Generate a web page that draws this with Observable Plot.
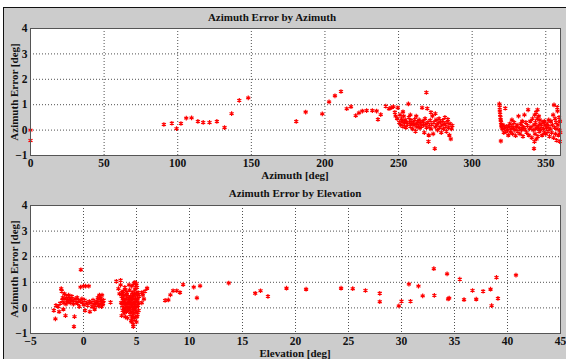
<!DOCTYPE html>
<html><head><meta charset="utf-8">
<script src="https://cdn.jsdelivr.net/npm/d3@7"></script>
<script src="https://cdn.jsdelivr.net/npm/@observablehq/plot@0.6"></script>
<style>
body{margin:0;background:#fff;}
#fig{position:relative;width:566px;height:359px;overflow:hidden;background:#fff;}
#bg{position:absolute;left:3px;top:7px;right:0;bottom:0;background:#cccccc;border-left:1.5px solid #111;border-top:1.5px solid #111;}
.t{position:absolute;font-family:"Liberation Serif",serif;font-weight:bold;font-size:11px;color:#111;white-space:nowrap;}
.p{position:absolute;left:0;}
.p svg text{font-family:"Liberation Serif",serif;font-weight:bold;}
</style></head>
<body><div id="fig"><div id="bg"></div>
<div class="t" style="left:272px;top:11px;transform:translateX(-50%)">Azimuth Error by Azimuth</div>
<div class="t" style="left:295px;top:169px;transform:translateX(-50%)">Azimuth [deg]</div>
<div class="t" style="left:14px;top:92px;transform:translate(-50%,-50%) rotate(-90deg)">Azimuth Error [deg]</div>
<div class="t" style="left:295px;top:187px;transform:translateX(-50%)">Azimuth Error by Elevation</div>
<div class="t" style="left:295px;top:347px;transform:translateX(-50%)">Elevation [deg]</div>
<div class="t" style="left:14px;top:269px;transform:translate(-50%,-50%) rotate(-90deg)">Azimuth Error [deg]</div>
<div id="p1" class="p" style="top:0px"></div>
<div id="p2" class="p" style="top:180px"></div>
</div>
<script>
const azimuthTicks = [0,50,100,150,200,250,300,350];
const elevationTicks = [-5,0,5,10,15,20,25,30,35,40,45];
const errorTicks = [-1,0,1,2,3,4];

// Azimuth error vs azimuth: [azimuth, error]
const azSparse = [[0,0],[0,-0.41],[90.6,0.22],[96,0.27],[99.2,0.06],[102.2,0.26],[105.8,0.47],[109.4,0.48],[113.7,0.34],[117.3,0.3],[121.6,0.3],[126.6,0.34],[131.8,0.1],[136.6,0.65],[141.8,1.17],[147.9,1.27],[180.5,0.34],[186.9,0.71],[198.2,0.64],[202.8,1.11],[206.8,1.35],[210.9,1.52],[214.8,0.84],[217.7,0.92],[220.9,0.57],[223.1,0.68],[225.4,0.75],[228.3,0.77],[232.2,0.77],[235.1,0.75],[236,0.42],[237.9,0.61]];
const azClusterA = [[241.3,0.94],[243.5,0.84],[245,0.88],[246.5,0.92],[247.5,0.7],[248,0.55],[249,0.45],[249.5,0.88],[250.5,0.3],[251,0.6],[251.5,0.2],[252,0.45],[252.5,0.35],[253,0.15],[253.5,0.55],[254,0.28],[254.5,0.4],[255,0.1],[255.5,0.32],[256,0.22],[256.7,1.03],[257,0.5],[257.5,0.3],[258,0.15],[258.5,0.38],[259,0.25],[259.5,0.05],[260,0.3],[260.5,0.2],[261,0.42],[261.5,-0.05],[262,0.25],[262.5,0.12],[263,0.33],[263.5,0.18],[264,0.4],[264.5,0.08],[265,0.28],[265.5,0.15],[266,0.88],[266.5,0.35],[267,0.2],[267.5,-0.1],[268,0.45],[268.5,0.25],[268.9,1.48],[269,0.1],[269.5,0.85],[270,0.3],[270.3,-0.45],[270.5,-0.2],[271,0.15],[271.5,0.38],[272,0.05],[272.5,0.22],[273,0.55],[273.5,-0.15],[274,0.3],[274.6,-0.73],[275,0.12],[275.5,0.4],[276,0.2],[276.5,0],[277,0.28],[277.5,0.45],[278,0.1],[278.5,0.32],[279,-0.1],[279.5,0.2],[280,0.38],[280.5,0.05],[281,0.25],[281.5,0.5],[282,0.15],[282.5,-0.05],[283,0.3],[283.5,0.42],[284,0.1],[284.5,-0.2],[285,0.25],[285.5,-0.35],[286,0.05],[286.5,0.18],[258,0.6],[262,0.55],[272,0.7],[275,0.65],[253,0.72]];
const azClusterB = [[318.5,1.03],[318.7,0.9],[318.8,0.75],[319,0.62],[319.2,0.5],[319.4,0.4],[319.6,0.3],[319.8,0.2],[320,0.12],[319.5,-0.43],[320.5,0.05],[321,0.2],[321.5,-0.1],[322,0.1],[322.5,0.86],[323,-0.05],[323.5,0.15],[324,0],[324.5,-0.2],[325,0.12],[325.5,0.25],[326,-0.08],[326.5,0.05],[327,0.18],[327.5,-0.15],[328,0.1],[328.5,0.3],[329,0],[329.5,-0.22],[330,0.12],[330.5,0.2],[331,-0.05],[331.5,0.55],[332,0.08],[332.5,-0.15],[333,0.25],[333.5,0],[334,0.15],[334.5,-0.25],[335,0.1],[335.5,0.6],[336,0.02],[336.5,0.3],[337,-0.1],[337.5,0.18],[338,0.8],[338.5,-0.2],[339,0.05],[339.5,0.35],[340,0.12],[340.5,-0.3],[341,0.45],[341.5,0],[342,-0.73],[342,0.2],[342.3,-0.45],[342.5,0.6],[342.7,-0.15],[343,0.3],[343.2,0.05],[343.5,0.7],[343.7,-0.35],[344,0.15],[344.2,0.45],[344.4,0.8],[344.6,-0.25],[345,0.1],[345.3,0.55],[345.5,-0.05],[346,0.25],[346.5,0],[347,0.15],[347.5,-0.2],[348,0.3],[348.5,0.05],[349,-0.1],[349.5,0.2],[350,-0.15],[350.5,0.1],[351,0.25],[351.5,-0.05],[352,0.15],[352.5,-0.25],[353,0.05],[353.5,0.35],[354,-0.1],[354.5,0.2],[355,0.6],[355.3,-0.3],[355.6,0.99],[356,0.1],[356.3,0.45],[356.6,-0.15],[357,0.3],[357.3,-0.4],[357.6,0.05],[358,0.75],[358.3,0.2],[358.6,-0.2],[359,0.5],[359.3,0],[359.6,0.35],[359.8,-0.1],[357.8,0.9],[359.5,-0.45],[334,0.35],[327,0.4],[346,0.4],[349,0.35],[352,0.4]];

// Azimuth error vs elevation: [elevation, error]
const elClusterC = [[-2.8,-0.1],[-2.65,-0.43],[-2.6,0.1],[-2.4,0.05],[-2.3,-0.15],[-2.2,0.18],[-2.1,0.75],[-2.05,0.65],[-2,0.3],[-1.95,0.4],[-1.9,-0.05],[-1.85,0.2],[-1.8,0.55],[-1.75,0.35],[-1.7,-0.3],[-1.65,0.15],[-1.6,0.45],[-1.5,0.3],[-1.45,0.25],[-1.4,0.5],[-1.3,0.38],[-1.25,0.2],[-1.2,0.32],[-1.1,0.45],[-1,0.28],[-0.95,0.15],[-0.9,-0.73],[-0.85,-0.34],[-0.8,0.35],[-0.7,0.22],[-0.6,0.4],[-0.55,0.18],[-0.5,0.3],[-0.4,0.05],[-0.3,0.25],[-0.25,1.49],[-0.28,0.81],[-0.15,0.35],[-0.1,0.2],[0,0.85],[0.05,0.12],[0.1,0.3],[0.15,-0.1],[0.2,0.85],[0.3,0.2],[0.4,0.1],[0.5,0.85],[0.55,0.25],[0.6,-0.15],[0.7,0.2],[0.8,0.05],[0.9,0.3],[1,0.15],[1.05,-0.05],[1.1,0.1],[1.2,0.25],[1.3,0.2],[1.35,0.4],[1.4,0.08],[1.45,0.3],[1.5,0.5],[1.55,0.15],[1.6,0.35],[1.65,0.22],[1.7,0.05],[1.75,0.28],[1.8,0.12],[1.85,0.18],[1.9,0.3],[1.6,0.45],[1.75,0.5],[2.55,0.22]];
const elClusterD = [[3.1,1.04],[3.3,0.75],[3.4,0.55],[3.5,1.08],[3.5,0.9],[3.55,0.2],[3.6,-0.3],[3.6,0.45],[3.65,0.1],[3.7,0.3],[3.7,-0.1],[3.75,0.65],[3.8,0],[3.8,0.5],[3.85,-0.2],[3.85,0.25],[3.9,0.15],[3.9,0.8],[3.95,-0.35],[4,0.35],[4,0.05],[4.05,-0.15],[4.1,0.6],[4.1,0.2],[4.15,-0.4],[4.2,0.1],[4.2,0.45],[4.25,-0.05],[4.3,0.3],[4.3,0],[4.35,0.7],[4.4,-0.25],[4.4,0.15],[4.45,0.45],[4.5,-0.5],[4.5,0.05],[4.5,0.25],[4.55,0.85],[4.6,-0.1],[4.6,0.35],[4.6,0.6],[4.65,-0.3],[4.65,0.1],[4.7,-0.65],[4.7,0.2],[4.7,0.5],[4.75,-0.2],[4.75,0],[4.75,0.95],[4.8,0.3],[4.8,-0.45],[4.8,0.15],[4.85,0.7],[4.85,-0.05],[4.9,0.4],[4.9,-0.35],[4.9,0.1],[4.95,0.55],[4.95,-0.15],[5,0.25],[5,0.95],[5,-0.55],[5.05,0.05],[5.05,0.8],[5.1,0.35],[5.1,-0.25],[5.15,0.6],[5.15,0.1],[5.2,-0.1],[5.25,0.45],[4.7,-0.73],[4.55,-0.55],[4.85,1],[4.3,0.9],[3.95,0.7],[5.5,0.2],[5.6,0.5],[5.7,0.35],[5.8,0.65],[6,0.77],[5.5,0.6],[3.75,0.4],[3.9,-0.05],[4.05,0.5],[4.25,0.25],[4.45,-0.15],[4.55,0.15],[4.65,0.4],[4.8,0.55],[4.95,0.3],[5.05,-0.35],[5.2,0.2],[3.65,0.6],[3.8,0.2],[4.15,-0.1],[4.35,0.4],[4.6,-0.4],[4.9,0.8],[5.1,0.5]];
const elSparse = [[7.7,0.29],[8,0.31],[8.2,0.51],[8.45,0.67],[8.8,0.67],[9.1,0.6],[9.4,0.91],[10.4,0.81],[10.7,0.39],[11,0.86],[13.7,0.97],[16.2,0.57],[16.7,0.67],[17.4,0.45],[19.15,0.77],[21,0.73],[24.3,0.77],[25.4,0.75],[26.6,0.68],[27.95,0.57],[27.95,0.24],[29.75,0.08],[30,0.26],[30.7,0.93],[30.85,0.26],[31.6,0.85],[32,0.47],[33.05,1.53],[33.1,0.49],[34.3,1.33],[34.4,0.35],[34.5,0.38],[35.5,1.12],[35.9,0.32],[36.7,0.68],[37.05,0.34],[37.7,0.65],[38.4,0.73],[38.5,0.09],[38.96,1.19],[39.1,0.37],[40.8,1.28]];

function makePlot(data, xDomain, xTicks, height, mTop, mBottom) {
  return Plot.plot({
    width: 566, height,
    marginLeft: 30, marginRight: 6, marginTop: mTop, marginBottom: mBottom,
    x: {domain: xDomain},
    y: {domain: [-1, 4]},
    style: {background: "transparent", fontFamily: "Liberation Serif, serif", fontWeight: "bold", fontSize: "11.5px", color: "#111", overflow: "visible"},
    marks: [
      Plot.frame({fill: "white", stroke: null}),
      Plot.gridX(xTicks, {stroke: "#333", strokeDasharray: "1,2", strokeOpacity: 0.85}),
      Plot.gridY(errorTicks, {stroke: "#333", strokeDasharray: "1,2", strokeOpacity: 0.85}),
      Plot.axisX(xTicks, {tickSize: 0, tickPadding: 3, label: null}),
      Plot.axisY(errorTicks, {tickSize: 0, tickPadding: 3, label: null}),
      Plot.dot(data, {x: d => d[0], y: d => d[1], symbol: "asterisk", r: 2.2, stroke: "red", strokeWidth: 1.2}),
      Plot.frame({stroke: "#555"})
    ]
  });
}
document.getElementById("p1").append(makePlot([...azSparse, ...azClusterA, ...azClusterB], [0, 360], azimuthTicks, 185, 28, 30));
document.getElementById("p2").append(makePlot([...elClusterC, ...elClusterD, ...elSparse], [-5, 45], elevationTicks, 179, 25, 26));
</script>
</body></html>
